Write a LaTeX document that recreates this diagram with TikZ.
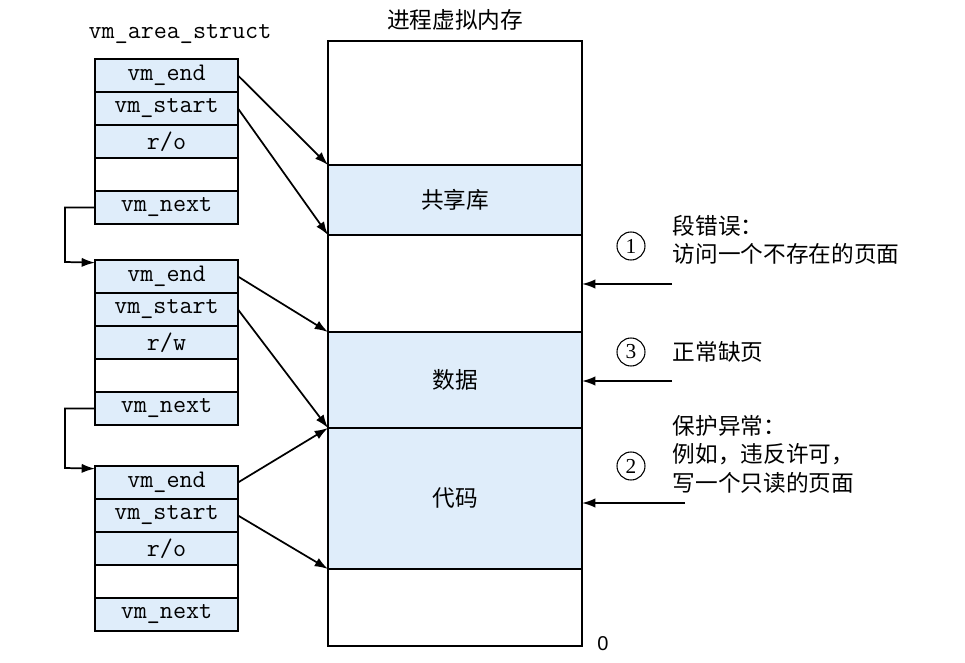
\documentclass[tikz,border=0pt]{standalone}
\usepackage{fontspec}
\newfontfamily\cjk{Noto Sans CJK SC}
\newfontfamily\digitfont{Liberation Serif}
\newfontfamily\zerofont{Liberation Sans}
\usetikzlibrary{arrows.meta,positioning}
\definecolor{memblue}{RGB}{223,237,250}

\begin{document}
\begin{tikzpicture}
		[x=0.75pt, y=-0.75pt,
		cell/.style ={rectangle, draw=black, line width=1.3pt, fill=memblue, minimum width=107.25pt, minimum height=24.75pt, inner sep=0pt, outer sep=0pt, anchor=north, font=\ttfamily\fontsize{19}{20}\selectfont},
		blank/.style ={cell, fill=white},
		region/.style ={rectangle, draw=black, line width=1.3pt, minimum width=190.5pt, inner sep=0pt, outer sep=0pt, anchor=north west, font=\cjk\fontsize{17}{20}\selectfont},
		arr/.style ={draw, line width=1.3pt, -{Latex[length=10pt,width=7pt]}},
		num/.style ={circle, draw=black, line width=0.8pt, minimum size=21pt, inner sep=0pt, font=\digitfont\fontsize{16}{17}\selectfont},
		note/.style ={anchor=west, align=left, font=\cjk\fontsize{17}{21.4}\selectfont}]
		\useasboundingbox (0,0) rectangle (965,663);
		
		% titles
		\node[font=\cjk\fontsize{17}{20}\selectfont] (title) at (455,20) {进程虚拟内存};
		\node[font=\ttfamily\fontsize{19}{20}\selectfont] (vmarea) at (180,34) {vm\_area\_struct};
		
		% process virtual memory
		\node[region, minimum height=93pt] (top) at (328,41) {};
		\node[region, fill=memblue, minimum height=52.5pt] (shared) at (328,165) {共享库};
		\node[region, minimum height=72.75pt] (gap) at (328,235) {};
		\node[region, fill=memblue, minimum height=72pt] (data) at (328,332) {数据};
		\node[region, fill=memblue, minimum height=105.75pt] (code) at (328,428) {代码};
		\node[region, minimum height=57.75pt] (bottom) at (328,569) {};
		\node[font=\zerofont\fontsize{15}{16}\selectfont] (zero) at (603,644) {0};
		
		% first vm_area_struct
		\node[cell] (a1) at (166.5,59) {vm\_end};
		\node[cell] (a2) at (166.5,92) {vm\_start};
		\node[cell] (a3) at (166.5,125) {r/o};
		\node[blank] (a4) at (166.5,158) {};
		\node[cell] (a5) at (166.5,191) {vm\_next};
		
		% second vm_area_struct
		\node[cell] (b1) at (166.5,260) {vm\_end};
		\node[cell] (b2) at (166.5,293) {vm\_start};
		\node[cell] (b3) at (166.5,326) {r/w};
		\node[blank] (b4) at (166.5,359) {};
		\node[cell] (b5) at (166.5,392) {vm\_next};
		
		% third vm_area_struct
		\node[cell] (c1) at (166.5,466) {vm\_end};
		\node[cell] (c2) at (166.5,499) {vm\_start};
		\node[cell] (c3) at (166.5,532) {r/o};
		\node[blank] (c4) at (166.5,565) {};
		\node[cell] (c5) at (166.5,598) {vm\_next};
		
		% list links
		\draw[arr] (a5.west) -| (65,262) -- ([yshift=-2pt]b1.north west);
		\draw[arr] (b5.west) -| (65,468) -- ([yshift=-2pt]c1.north west);
		
		% area bounds
		\draw[arr] (a1.east) -- (shared.north west);
		\draw[arr] (a2.east) -- (shared.south west);
		\draw[arr] (b1.east) -- (data.north west);
		\draw[arr] (b2.east) -- (data.south west);
		\draw[arr] (c1.east) -- (code.north west);
		\draw[arr] (c2.east) -- (code.south west);
		
		% faults
		\coordinate (f1) at (672,284);
		\coordinate (f3) at (672,381);
		\coordinate (f2) at (685,503);
		\draw[arr] (f1) -- (f1 -| gap.east);
		\draw[arr] (f3) -- (f3 -| data.east);
		\draw[arr] (f2) -- (f2 -| code.east);
		
		\node[num] (n1) at (631,246) {1};
		\node[num] (n3) at (631,352) {3};
		\node[num] (n2) at (631,466) {2};
		\node[note] (t1) at (668,240) {段错误：\\访问一个不存在的页面};
		\node[note] (t3) at (668,352) {正常缺页};
		\node[note] (t2) at (668,454) {保护异常：\\例如，违反许可，\\写一个只读的页面};

	\end{tikzpicture}
\end{document}
